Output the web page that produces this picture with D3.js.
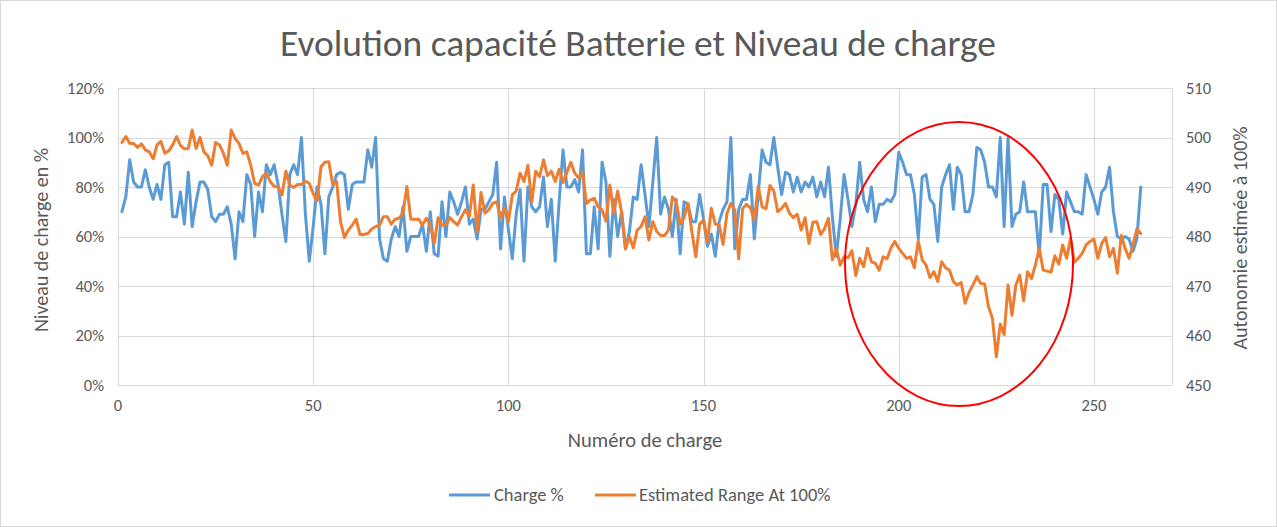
<!DOCTYPE html>
<html>
<head>
<meta charset="utf-8">
<script src="https://cdn.jsdelivr.net/npm/d3@7"></script>
<style>
  html, body { margin: 0; padding: 0; background: #fff; }
  svg { display: block; font-family: Calibri, Carlito, Lato, "Open Sans", sans-serif; }
</style>
</head>
<body>
<svg id="chart" width="1277" height="527"></svg>
<script>
const width = 1277;
const height = 527;

// charge % per recharge number (starting at 1)
const chargePct = [
  70, 76, 91, 82, 80, 80, 87, 80, 75, 81, 75, 89, 90, 68, 68, 78, 65, 86, 64, 74,
  82, 82, 79, 68, 66, 69, 69, 72, 65, 51, 70, 66, 85, 81, 60, 78, 70, 89, 85, 89,
  81, 69, 58, 85, 89, 85, 100, 69, 50, 64, 80, 73, 53, 76, 80, 85, 86, 85, 71, 81,
  82, 82, 82, 95, 88, 100, 59, 51, 50, 59, 64, 60, 72, 54, 60, 60, 60, 65, 54, 70,
  53, 52, 74, 60, 78, 74, 69, 74, 80, 65, 67, 59, 71, 71, 74, 77, 90, 55, 76, 63,
  51, 69, 79, 50, 80, 72, 70, 72, 84, 64, 75, 50, 74, 95, 80, 80, 83, 78, 95, 53,
  53, 72, 55, 90, 82, 52, 75, 60, 70, 55, 62, 76, 75, 89, 77, 64, 82, 100, 69, 76,
  71, 60, 75, 53, 74, 73, 66, 66, 77, 67, 56, 61, 52, 66, 71, 74, 100, 55, 71, 75,
  75, 85, 59, 77, 95, 90, 89, 100, 88, 77, 86, 85, 78, 84, 78, 82, 80, 84, 76, 82,
  76, 88, 68, 52, 67, 85, 75, 64, 73, 90, 75, 70, 80, 66, 73, 73, 75, 74, 77, 94,
  90, 85, 85, 77, 59, 84, 85, 75, 73, 58, 80, 85, 89, 71, 88, 85, 70, 70, 77, 96,
  95, 90, 80, 80, 76, 100, 64, 100, 64, 69, 70, 82, 70, 70, 70, 52, 81, 81, 62, 77,
  75, 61, 78, 74, 70, 70, 69, 85, 80, 75, 69, 78, 80, 88, 70, 60, 59, 60, 59, 54,
  59, 80
];

// estimated range at 100 % (km), same recharge numbers
const rangeKm = [
  499.0, 500.2, 498.8, 498.8, 498.0, 498.7, 497.5, 497.1, 495.7, 498.5,
  499.2, 496.8, 497.3, 498.5, 500.2, 498.4, 497.7, 497.8, 501.5, 497.8,
  500.0, 497.1, 496.3, 494.4, 499.0, 498.5, 496.8, 494.4, 501.5, 499.8,
  498.8, 496.8, 497.1, 494.4, 490.7, 490.4, 492.1, 492.8, 491.1, 490.1,
  490.1, 488.4, 493.2, 490.4, 489.9, 490.5, 490.5, 491.2, 490.7, 488.7,
  487.2, 494.1, 495.0, 495.1, 490.5, 491.1, 483.0, 479.8, 481.3, 482.3,
  483.5, 480.4, 480.4, 480.6, 481.5, 482.0, 482.3, 484.0, 484.0, 482.5,
  483.5, 483.7, 484.7, 490.1, 483.5, 483.5, 483.5, 482.3, 483.7, 482.3,
  478.6, 483.8, 482.3, 482.3, 483.8, 483.0, 482.3, 484.0, 485.4, 484.0,
  490.4, 481.0, 488.9, 484.7, 485.4, 486.7, 487.0, 483.8, 485.8, 482.9,
  488.4, 489.2, 492.8, 491.1, 494.4, 487.0, 493.2, 492.1, 495.5, 492.3,
  493.2, 491.1, 493.6, 490.9, 493.0, 495.0, 492.8, 491.8, 493.0, 486.7,
  487.4, 487.7, 486.0, 485.4, 483.1, 490.4, 484.7, 489.2, 485.0, 477.5,
  480.0, 477.7, 481.3, 482.0, 484.0, 479.3, 483.0, 481.0, 480.2, 480.2,
  481.3, 488.0, 487.0, 482.5, 483.8, 486.7, 481.0, 475.9, 482.5, 483.3,
  479.0, 485.7, 482.5, 482.3, 478.4, 484.7, 486.7, 485.4, 475.5, 485.6,
  486.5, 485.8, 483.3, 490.1, 486.0, 485.6, 490.3, 489.2, 485.0, 485.7,
  486.7, 484.7, 483.8, 484.5, 481.3, 483.8, 478.6, 482.9, 483.0, 480.4,
  481.6, 483.7, 475.3, 477.6, 474.2, 475.9, 475.7, 477.1, 472.1, 475.6,
  473.9, 477.6, 474.9, 474.6, 473.2, 475.9, 475.5, 477.7, 479.0, 477.6,
  476.6, 475.6, 475.9, 473.7, 479.1, 475.3, 474.2, 471.7, 472.9, 470.9,
  474.9, 473.7, 473.2, 470.9, 470.2, 470.7, 466.5, 468.7, 470.2, 471.9,
  470.5, 470.4, 465.8, 463.5, 455.7, 462.3, 460.2, 470.2, 464.1, 470.2,
  472.2, 467.0, 472.9, 471.5, 474.2, 477.6, 473.2, 473.0, 472.8, 476.1,
  474.4, 478.3, 475.6, 479.6, 474.8, 475.6, 476.6, 478.3, 479.0, 479.5,
  475.6, 478.6, 479.8, 475.9, 477.6, 472.6, 480.2, 477.6, 475.6, 478.3,
  481.5, 480.6
];

const xTicks = [0, 50, 100, 150, 200, 250];
const leftTicks = [0, 20, 40, 60, 80, 100, 120];
const rightTicks = [450, 460, 470, 480, 490, 500, 510];

const seriesNames = ["Charge %", "Estimated Range At 100%"];
const blue = "#5b9bd5";
const orange = "#ed7d31";
const gridColor = "#d9d9d9";
const textColor = "#595959";

const margin = { left: 118, right: 105, top: 88, bottom: 142 };
const plotW = width - margin.left - margin.right;
const plotH = height - margin.top - margin.bottom;

const svg = d3.select("#chart");

svg.append("rect")
  .attr("x", 0.5).attr("y", 0.5)
  .attr("width", width - 1).attr("height", height - 1)
  .attr("fill", "#fff")
  .attr("stroke", gridColor);

const x = d3.scaleLinear().domain([0, 270]).range([margin.left, margin.left + plotW]);
const yL = d3.scaleLinear().domain([0, 120]).range([margin.top + plotH, margin.top]);
const yR = d3.scaleLinear().domain([450, 510]).range([margin.top + plotH, margin.top]);

// gridlines
const grid = svg.append("g").attr("stroke", gridColor).attr("stroke-width", 1);
leftTicks.forEach(t => {
  grid.append("line")
    .attr("x1", x(0)).attr("x2", x(270))
    .attr("y1", Math.round(yL(t)) + 0.5).attr("y2", Math.round(yL(t)) + 0.5);
});
xTicks.concat([270]).forEach(t => {
  grid.append("line")
    .attr("x1", Math.round(x(t)) + 0.5).attr("x2", Math.round(x(t)) + 0.5)
    .attr("y1", yL(120)).attr("y2", yL(0));
});

// axis tick labels
const axisFont = "16.5px";
svg.append("g").selectAll("text").data(leftTicks).join("text")
  .attr("x", x(0) - 14)
  .attr("y", d => yL(d))
  .attr("dy", "0.35em")
  .attr("text-anchor", "end")
  .attr("font-size", axisFont)
  .attr("fill", textColor)
  .text(d => d + "%");

svg.append("g").selectAll("text").data(rightTicks).join("text")
  .attr("x", x(270) + 14)
  .attr("y", d => yR(d))
  .attr("dy", "0.35em")
  .attr("text-anchor", "start")
  .attr("font-size", axisFont)
  .attr("fill", textColor)
  .text(d => d);

svg.append("g").selectAll("text").data(xTicks).join("text")
  .attr("x", d => x(d))
  .attr("y", yL(0) + 26)
  .attr("text-anchor", "middle")
  .attr("font-size", axisFont)
  .attr("fill", textColor)
  .text(d => d);

// titles
svg.append("text")
  .attr("x", 638).attr("y", 56)
  .attr("text-anchor", "middle")
  .attr("font-size", "36px")
  .attr("textLength", 716)
  .attr("lengthAdjust", "spacingAndGlyphs")
  .attr("fill", textColor)
  .text("Evolution capacité Batterie et Niveau de charge");

svg.append("text")
  .attr("x", 645).attr("y", 447)
  .attr("text-anchor", "middle")
  .attr("font-size", "20.5px")
  .attr("fill", textColor)
  .text("Numéro de charge");

svg.append("text")
  .attr("transform", "translate(48,240) rotate(-90)")
  .attr("text-anchor", "middle")
  .attr("font-size", "20px")
  .attr("fill", textColor)
  .text("Niveau de charge en %");

svg.append("text")
  .attr("transform", "translate(1247,238) rotate(-90)")
  .attr("text-anchor", "middle")
  .attr("font-size", "20px")
  .attr("fill", textColor)
  .text("Autonomie estimée à 100%");

// series
const lineL = d3.line().x((d, i) => x(i + 1)).y(d => yL(d));
const lineR = d3.line().x((d, i) => x(i + 1)).y(d => yR(d));

svg.append("path")
  .datum(chargePct)
  .attr("d", lineL)
  .attr("fill", "none")
  .attr("stroke", blue)
  .attr("stroke-width", 3)
  .attr("stroke-linejoin", "round")
  .attr("stroke-linecap", "round");

svg.append("path")
  .datum(rangeKm)
  .attr("d", lineR)
  .attr("fill", "none")
  .attr("stroke", orange)
  .attr("stroke-width", 3)
  .attr("stroke-linejoin", "round")
  .attr("stroke-linecap", "round");

// red highlight ellipse
svg.append("ellipse")
  .attr("cx", 959).attr("cy", 264)
  .attr("rx", 114).attr("ry", 142)
  .attr("fill", "none")
  .attr("stroke", "#ff0000")
  .attr("stroke-width", 2);

// legend
const legend = svg.append("g").attr("transform", "translate(0,495)");
[[449, 494, blue, seriesNames[0]], [595, 639, orange, seriesNames[1]]].forEach(([lx, tx, c, name]) => {
  legend.append("line")
    .attr("x1", lx).attr("x2", lx + 41)
    .attr("y1", 0).attr("y2", 0)
    .attr("stroke", c).attr("stroke-width", 3);
  legend.append("text")
    .attr("x", tx).attr("y", 0)
    .attr("dy", "0.35em")
    .attr("font-size", "18.5px")
    .attr("fill", textColor)
    .text(name);
});
</script>
</body>
</html>
